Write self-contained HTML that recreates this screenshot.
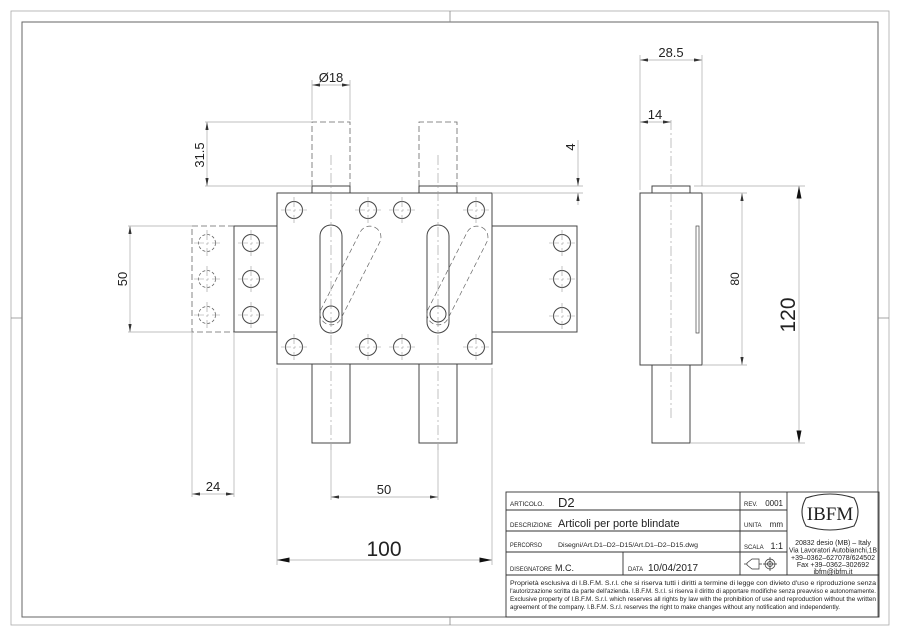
<!DOCTYPE html>
<html><head><meta charset="utf-8"><style>
body{margin:0;background:#fff}
svg{display:block}
text{font-family:"Liberation Sans",sans-serif;fill:#222}
.o{stroke:#444;stroke-width:1;fill:none}
.d{stroke:#aaa;stroke-width:0.7;fill:none}
.h{stroke:#666;stroke-width:0.8;fill:none;stroke-dasharray:6,3}
.c{stroke:#999;stroke-width:0.6;fill:none;stroke-dasharray:10,3,2,3}
.t{stroke:#333;stroke-width:0.9;fill:none}
</style></head><body>
<svg width="900" height="636" viewBox="0 0 900 636" xmlns="http://www.w3.org/2000/svg">
<defs>
<marker id="a" viewBox="0 0 10 4" refX="10" refY="2" markerWidth="8" markerHeight="3.2" orient="auto-start-reverse" markerUnits="userSpaceOnUse"><path d="M0,0L10,2L0,4z" fill="#333"/></marker>
<marker id="b" viewBox="0 0 10 4" refX="10" refY="2" markerWidth="14" markerHeight="5" orient="auto-start-reverse" markerUnits="userSpaceOnUse"><path d="M0,0L10,2L0,4z" fill="#111"/></marker>
<g id="hole"><circle r="8.5" class="o"/><path d="M-13,0H13M0,-13V13" class="c"/></g>
<g id="hh"><circle r="8.5" class="h" style="stroke-dasharray:3,2"/><path d="M-13,0H13M0,-13V13" class="c"/></g>
</defs>
<rect x="11" y="11" width="878" height="614" fill="none" stroke="#aaa" stroke-width="0.8"/>
<rect x="22" y="22" width="856" height="595" fill="none" stroke="#666" stroke-width="1"/>
<path d="M450,11V22M450,617V625M11,318H22M878,318H889" stroke="#888" stroke-width="0.8"/>

<rect x="277" y="193" width="215" height="171" class="o"/>
<rect x="312" y="186" width="38" height="7" class="o"/>
<rect x="419" y="186" width="38" height="7" class="o"/>
<path d="M312,186V122H350V186M419,186V122H457V186" class="h"/>
<rect x="312" y="364" width="38" height="79" class="o"/>
<rect x="419" y="364" width="38" height="79" class="o"/>
<path d="M331,155V450M438,155V450" class="c"/>
<rect x="234" y="226" width="43" height="106" class="o"/>
<path d="M234,226H192V332H234" class="h"/>
<rect x="492" y="226" width="85" height="106" class="o"/>
<use href="#hole" x="251" y="243"/><use href="#hole" x="251" y="279"/><use href="#hole" x="251" y="315"/>
<use href="#hh" x="207" y="243"/><use href="#hh" x="207" y="279"/><use href="#hh" x="207" y="315"/>
<use href="#hole" x="562" y="243"/><use href="#hole" x="562" y="279"/><use href="#hole" x="562" y="316"/>
<use href="#hole" x="294" y="210"/><use href="#hole" x="368" y="210"/><use href="#hole" x="402" y="210"/><use href="#hole" x="476" y="210"/>
<use href="#hole" x="294" y="347"/><use href="#hole" x="368" y="347"/><use href="#hole" x="402" y="347"/><use href="#hole" x="476" y="347"/>
<rect x="320" y="225" width="22" height="108" rx="11" class="o"/>
<rect x="427" y="225" width="22" height="108" rx="11" class="o"/>
<circle cx="331" cy="314" r="8" class="o"/><circle cx="438" cy="314" r="8" class="o"/>
<rect x="-11" y="-54" width="22" height="108" rx="11" class="h" transform="translate(350.5,275.5) rotate(26.9)" style="stroke-dasharray:5,3;stroke-width:0.7"/>
<rect x="-11" y="-54" width="22" height="108" rx="11" class="h" transform="translate(457.5,275.5) rotate(26.9)" style="stroke-dasharray:5,3;stroke-width:0.7"/>

<path d="M312,120V80M350,120V80" class="d"/>
<line x1="312" y1="85" x2="350" y2="85" class="d" marker-start="url(#a)" marker-end="url(#a)"/>
<text x="331" y="82" font-size="13" text-anchor="middle">Ø18</text>
<path d="M205,122H312M205,186H312" class="d"/>
<line x1="207" y1="122" x2="207" y2="186" class="d" marker-start="url(#a)" marker-end="url(#a)"/>
<text transform="translate(204,155) rotate(-90)" font-size="13" text-anchor="middle">31.5</text>
<path d="M457,186H583M492,193H583" class="d"/>
<line x1="578" y1="140" x2="578" y2="186" class="d" marker-end="url(#a)"/>
<line x1="578" y1="205" x2="578" y2="193" class="d" marker-end="url(#a)"/>
<text transform="translate(575,147) rotate(-90)" font-size="13" text-anchor="middle">4</text>
<path d="M128,226H192M128,332H192" class="d"/>
<line x1="130" y1="226" x2="130" y2="332" class="d" marker-start="url(#a)" marker-end="url(#a)"/>
<text transform="translate(127,279) rotate(-90)" font-size="13" text-anchor="middle">50</text>
<path d="M192,332V497M234,332V497" class="d"/>
<line x1="192" y1="494" x2="234" y2="494" class="d" marker-start="url(#a)" marker-end="url(#a)"/>
<text x="213" y="491" font-size="13" text-anchor="middle">24</text>
<path d="M331,443V500M438,443V500" class="d"/>
<line x1="331" y1="497" x2="438" y2="497" class="d" marker-start="url(#a)" marker-end="url(#a)"/>
<text x="384" y="494" font-size="13" text-anchor="middle">50</text>
<path d="M277,368V565M492,368V565" class="d"/>
<line x1="277" y1="560" x2="492" y2="560" class="d" marker-start="url(#b)" marker-end="url(#b)"/>
<text x="384" y="556" font-size="21" text-anchor="middle">100</text>

<rect x="640" y="193" width="62" height="172" class="o"/>
<rect x="652" y="186" width="38" height="7" class="o"/>
<rect x="652" y="365" width="38" height="78" class="o"/>
<rect x="696" y="226" width="3" height="107" class="o" style="stroke-width:0.7"/>
<path d="M671,120V418" class="c"/>
<path d="M640,190V55M702,186V55" class="d"/>
<line x1="640" y1="60" x2="702" y2="60" class="d" marker-start="url(#a)" marker-end="url(#a)"/>
<text x="671" y="57" font-size="13" text-anchor="middle">28.5</text>
<line x1="640" y1="122" x2="671" y2="122" class="d" marker-start="url(#a)" marker-end="url(#a)"/>
<text x="655" y="119" font-size="13" text-anchor="middle">14</text>
<path d="M702,193H747M702,365H747M694,186H805M690,443H805" class="d"/>
<line x1="742" y1="193" x2="742" y2="365" class="d" marker-start="url(#a)" marker-end="url(#a)"/>
<text transform="translate(739,279) rotate(-90)" font-size="12" text-anchor="middle">80</text>
<line x1="799" y1="186" x2="799" y2="443" class="d" marker-start="url(#b)" marker-end="url(#b)"/>
<text transform="translate(795,315) rotate(-90)" font-size="21" text-anchor="middle">120</text>

<g class="t">
<rect x="506" y="492" width="373" height="125"/>
<path d="M506,510H787M506,531H787M506,552H787M506,575H879M740,492V575M787,492V575M623,552V575"/>
</g>
<g>
<text x="510" y="506" font-size="6" textLength="34" lengthAdjust="spacingAndGlyphs">ARTICOLO.</text>
<text x="558" y="507" font-size="13" fill="#333">D2</text>
<text x="510" y="527" font-size="6" textLength="42" lengthAdjust="spacingAndGlyphs">DESCRIZIONE</text>
<text x="558" y="527" font-size="11" fill="#333">Articoli per porte blindate</text>
<text x="510" y="547" font-size="6" textLength="32" lengthAdjust="spacingAndGlyphs">PERCORSO</text>
<text x="558" y="547" font-size="6.5" textLength="140" lengthAdjust="spacingAndGlyphs">Disegni/Art.D1–D2–D15/Art.D1–D2–D15.dwg</text>
<text x="510" y="571" font-size="6" textLength="42" lengthAdjust="spacingAndGlyphs">DISEGNATORE</text>
<text x="555" y="571" font-size="9">M.C.</text>
<text x="628" y="571" font-size="6">DATA</text>
<text x="648" y="571" font-size="10">10/04/2017</text>
<text x="744" y="506" font-size="6">REV.</text><text x="783" y="506" font-size="8" text-anchor="end">0001</text>
<text x="744" y="527" font-size="6">UNITA</text><text x="783" y="527" font-size="8" text-anchor="end">mm</text>
<text x="744" y="549" font-size="6">SCALA</text><text x="783" y="549" font-size="9" text-anchor="end">1:1</text>
</g>
<g class="t" style="stroke-width:0.7">
<path d="M747,563L752,559H759V569H752L747,565z M759,564H762M744,564H747"/>
<circle cx="770" cy="564" r="5"/><circle cx="770" cy="564" r="2.5"/><path d="M763,564H777M770,557V571"/>
<path d="M806,498Q830,490 854,498Q862,512 854,526Q830,534 806,526Q798,512 806,498z" style="stroke-width:1.1"/>
</g>
<text x="830" y="520" font-size="19" text-anchor="middle" style="font-family:'Liberation Serif',serif" fill="#333">IBFM</text>
<g font-size="7" text-anchor="middle">
<text x="833" y="545">20832 desio (MB) – Italy</text>
<text x="833" y="552.5" textLength="88" lengthAdjust="spacingAndGlyphs">Via Lavoratori Autobianchi,1B</text>
<text x="833" y="560" textLength="84" lengthAdjust="spacingAndGlyphs">+39–0362–627078/624502</text>
<text x="833" y="567">Fax +39–0362–302692</text>
<text x="833" y="574">ibfm@ibfm.it</text>
</g>
<g font-size="6.2">
<text x="510" y="585" textLength="366" lengthAdjust="spacingAndGlyphs">Proprietà esclusiva di I.B.F.M. S.r.l. che si riserva tutti i diritti a termine di legge con divieto d'uso e riproduzione senza</text>
<text x="510" y="593" textLength="366" lengthAdjust="spacingAndGlyphs">l'autorizzazione scritta da parte dell'azienda. I.B.F.M. S.r.l. si riserva il diritto di apportare modifiche senza preavviso e autonomamente.</text>
<text x="510" y="601" textLength="366" lengthAdjust="spacingAndGlyphs">Exclusive property of I.B.F.M. S.r.l. which reserves all rights by law with the prohibition of use and reproduction without the written</text>
<text x="510" y="609" textLength="330" lengthAdjust="spacingAndGlyphs">agreement of the company. I.B.F.M. S.r.l. reserves the right to make changes without any notification and independently.</text>
</g>
</svg>
</body></html>
